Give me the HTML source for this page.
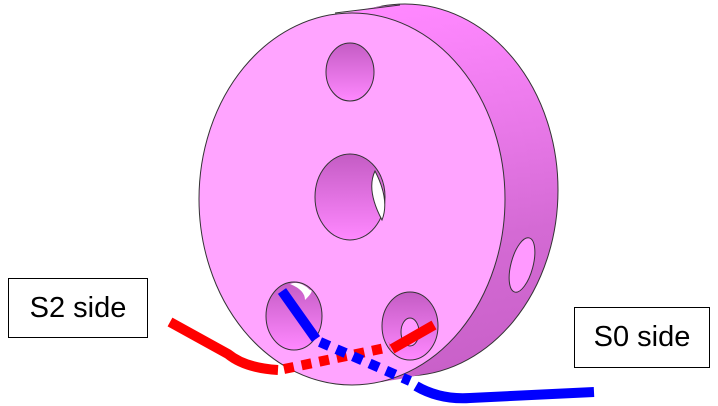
<!DOCTYPE html>
<html><head><meta charset="utf-8"><style>
body{margin:0;width:718px;height:406px;background:#fff;overflow:hidden}
.lbl{position:absolute;border:1.5px solid #000;background:#fff;font-family:"Liberation Sans",sans-serif;font-size:29px;display:flex;align-items:center;justify-content:center;box-sizing:border-box}
</style></head><body>
<svg width="718" height="406" style="position:absolute;left:0;top:0">
<defs>
<linearGradient id="side" x1="0" y1="0" x2="0" y2="1">
<stop offset="0" stop-color="#ff88ff"/><stop offset="0.6" stop-color="#d46ad4"/><stop offset="1" stop-color="#c860c8"/></linearGradient>
<linearGradient id="hole" x1="0" y1="0" x2="0" y2="1">
<stop offset="0" stop-color="#c45cc4"/><stop offset="1" stop-color="#ff88ff"/></linearGradient>
</defs>
<g>
<ellipse cx="405" cy="190" rx="153" ry="186" fill="url(#side)" stroke="#333" stroke-width="1"/>
<ellipse cx="392" cy="192" rx="153" ry="186" fill="url(#side)"/>
<ellipse cx="378" cy="195" rx="153" ry="186" fill="url(#side)"/>
<ellipse cx="365" cy="197" rx="153" ry="186" fill="url(#side)"/>
<path d="M335,13 L400,5" stroke="#333" stroke-width="1"/>
</g>
<ellipse cx="352" cy="199" rx="153" ry="186" fill="#ffa4ff" stroke="#333" stroke-width="1"/>
<ellipse cx="522" cy="265" rx="11" ry="28" transform="rotate(15 522 265)" fill="#ff99ff" stroke="#333"/>
<ellipse cx="350" cy="72" rx="24" ry="29" fill="url(#hole)" stroke="#333"/>
<g>
<ellipse cx="350" cy="197" rx="35" ry="43" fill="url(#hole)" stroke="#333"/>
<path d="M375,171 Q366,190 382,220 Q390,200 375,171Z" fill="#fff" stroke="#333"/>
</g>
<g>
<ellipse cx="294" cy="316" rx="28" ry="34" fill="url(#hole)" stroke="#333"/>
<path d="M290,284 Q305,290 305,300 Q315,290 310,290 Q300,280 290,284Z" fill="#fff"/>
</g>
<g>
<ellipse cx="410" cy="326" rx="28" ry="34" fill="url(#hole)" stroke="#333"/>
<ellipse cx="410" cy="332" rx="9" ry="14" fill="#ff99ff" stroke="#333"/>
</g>
<g fill="none" stroke-width="10">
<path d="M170,322 L228,354 Q245,368 278,370" stroke="#ff0000"/>
<path d="M284,369 L390,347" stroke="#ff0000" stroke-dasharray="10,8"/>
<path d="M392,349 L434,325" stroke="#ff0000"/>
</g>
<g fill="none" stroke-width="10">
<path d="M282,291 L316,339" stroke="#0000ff"/>
<path d="M320,342 L410,381" stroke="#0000ff" stroke-dasharray="10,8"/>
<path d="M416,386 Q440,400 470,398 L594,392" stroke="#0000ff"/>
</g>
</svg>
<div class="lbl" style="left:8px;top:278px;width:140px;height:60px">S2 side</div>
<div class="lbl" style="left:574px;top:307px;width:136px;height:61px">S0 side</div>
</body></html>
